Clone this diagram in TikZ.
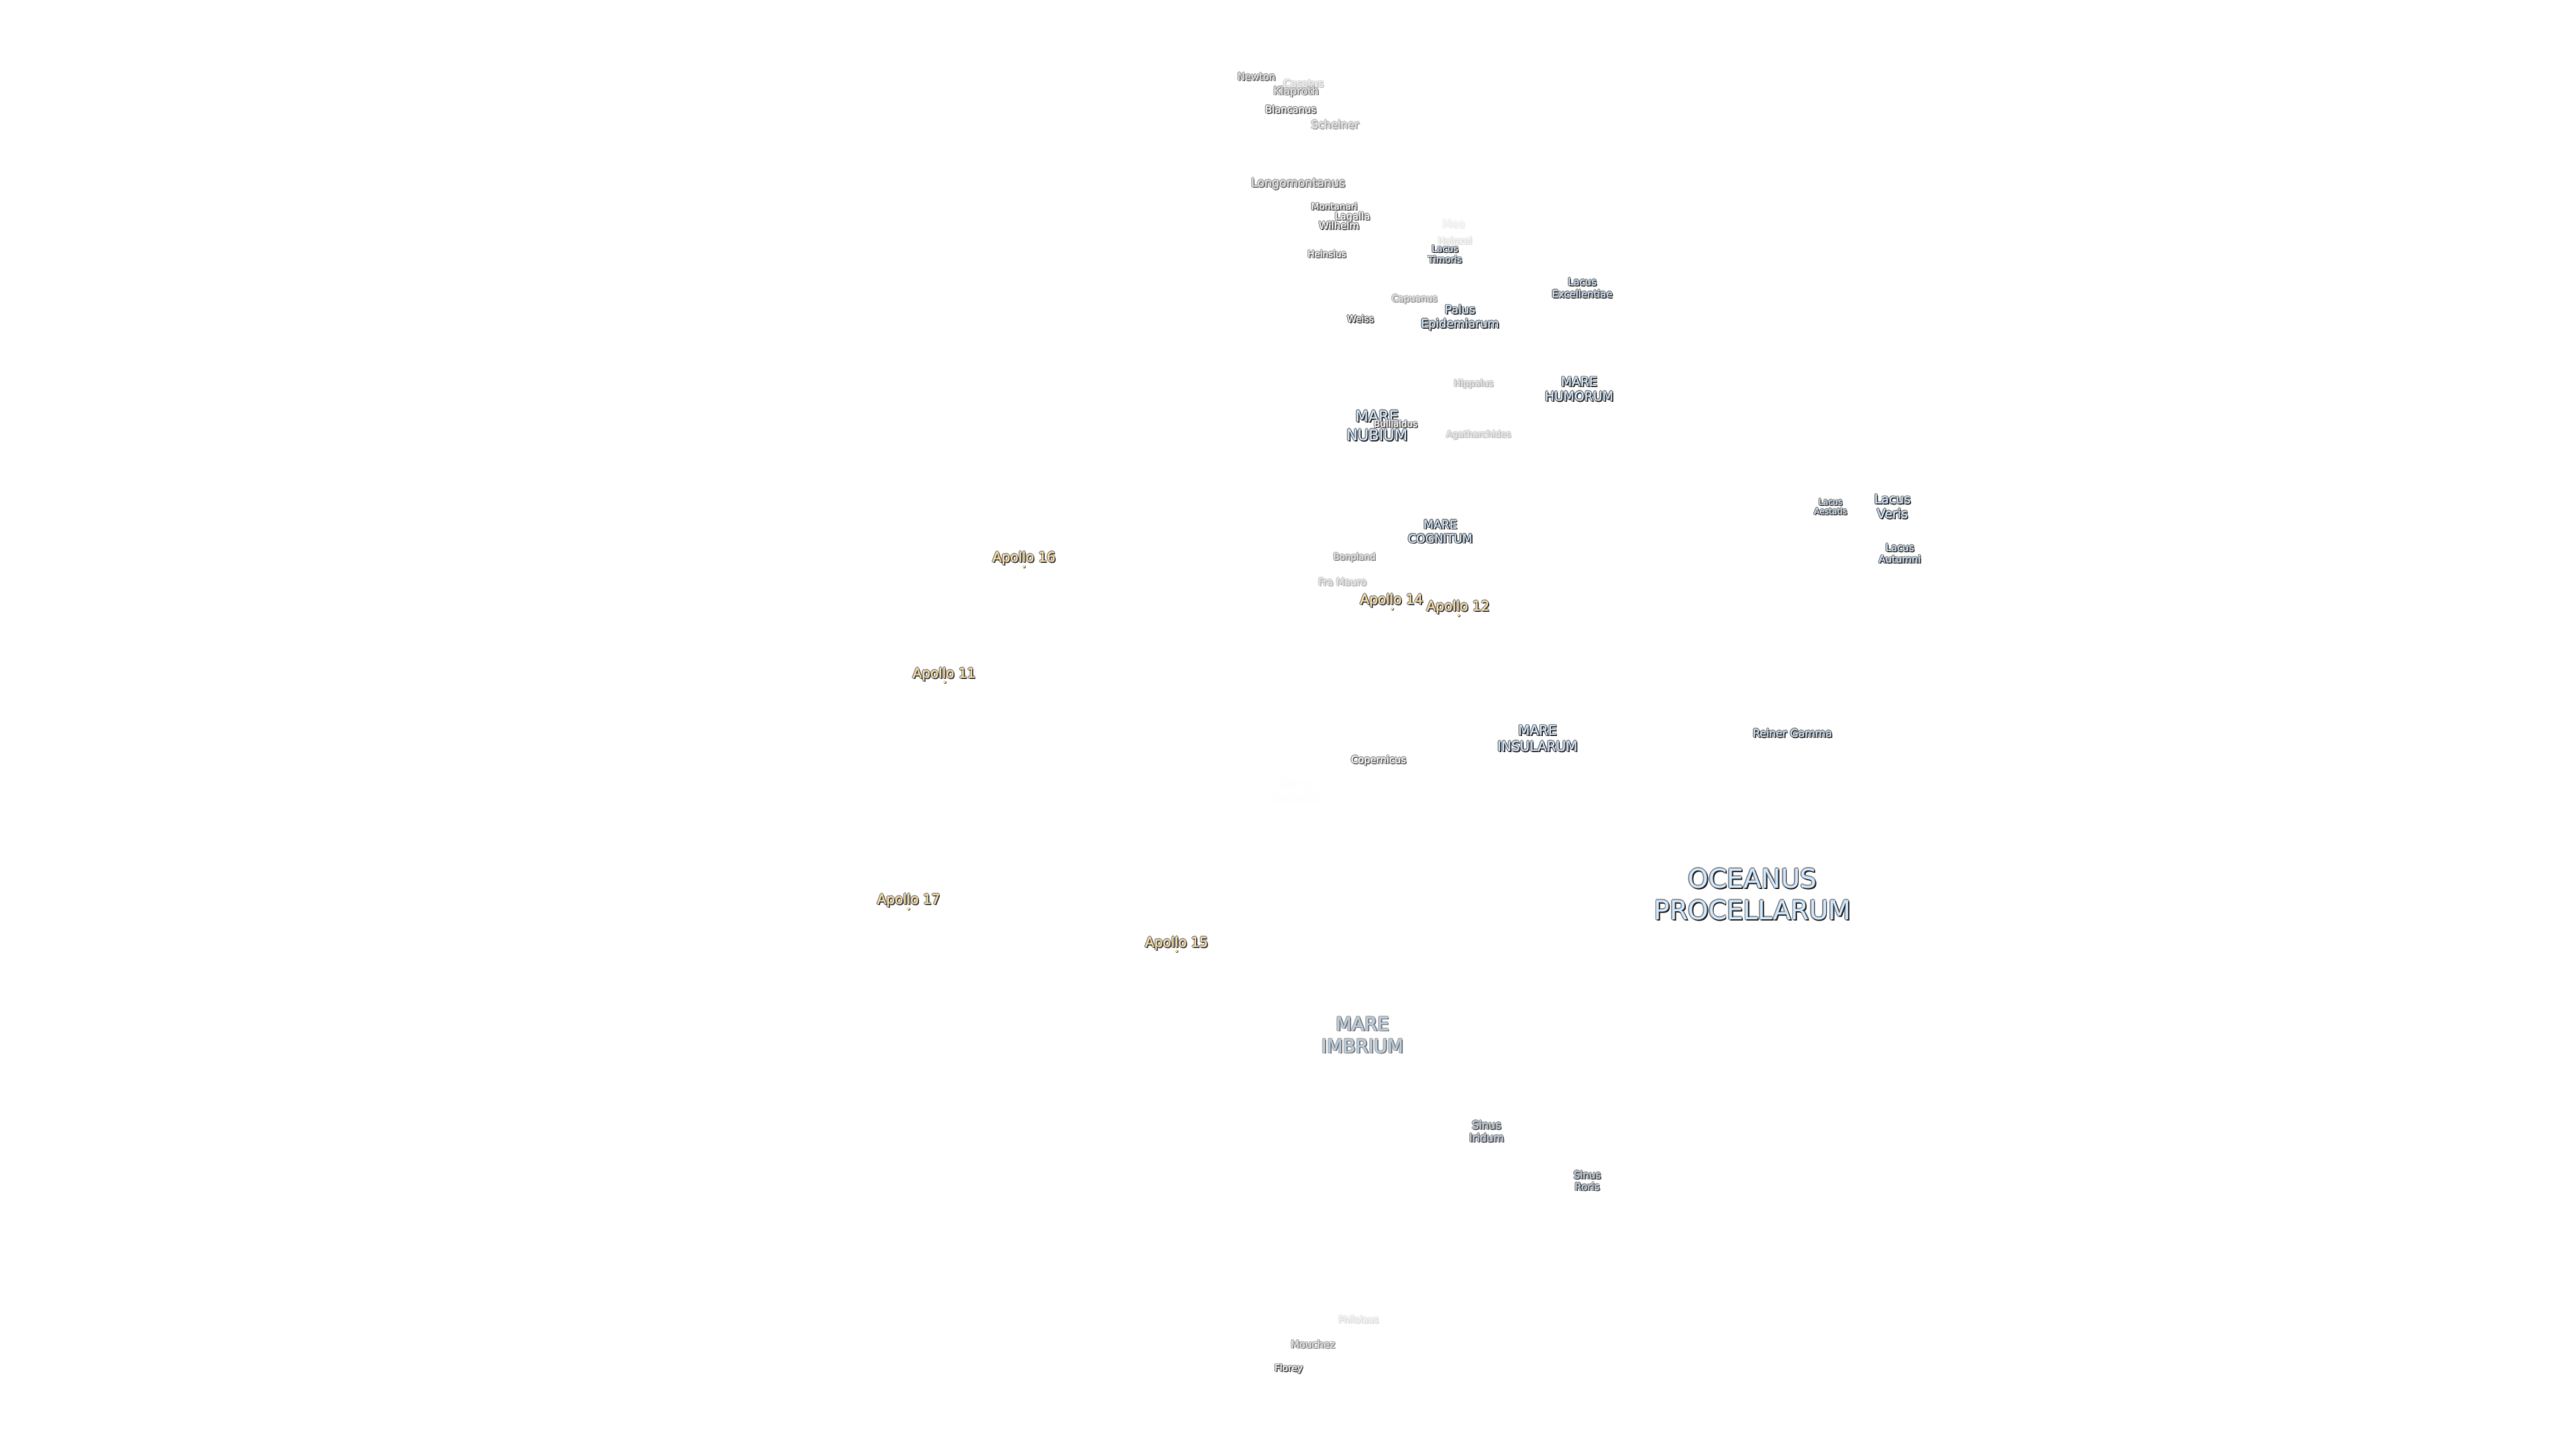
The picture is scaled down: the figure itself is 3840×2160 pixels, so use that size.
\documentclass[tikz,border=0pt]{standalone}
\usepackage{fontspec}
\setmainfont{DejaVu Sans}
\definecolor{seafill}{HTML}{CCE5FF}
\definecolor{seadim}{HTML}{B8CCE0}
\definecolor{apollofill}{HTML}{FFDD99}
\definecolor{craterfill}{HTML}{FFFFFF}
\definecolor{cratermid}{HTML}{E2E2E2}
\newcommand{\moonfont}[2]{\fontsize{\dimexpr#1pt*2845/10000\relax}{\dimexpr#2pt*2845/10000\relax}\selectfont}
% name, x, y, size(px), line height(px), fill colour, strength(0-100), text
\newcommand{\moonlabel}[8]{%
  \pgfmathsetmacro{\khalo}{0.42*#7}%
  \pgfmathsetmacro{\kdark}{0.80*#7}%
  \pgfmathsetmacro{\kfill}{#7<30?30+#7:100}%
  \colorlet{halocol}{black!\khalo!white}%
  \colorlet{darkcol}{black!\kdark!white}%
  \colorlet{fillcol}{#6!\kfill!white}%
  \pgfmathsetmacro{\ycen}{#3+0.12*#4}%
  \foreach \hx/\hy [count=\hi] in {-1.7/0,1.7/0,0/-1.7,0/1.7,-1.2/-1.2,1.2/-1.2,-1.2/1.2,1.2/1.2}{%
    \node[moontext,text=halocol,font=\moonfont{#4}{#5}] (#1-halo\hi) at (#2+\hx,\ycen+\hy) {\rule{0pt}{.76em}#8\rule[-.24em]{0pt}{.24em}};
  }%
  \node[moontext,text=darkcol,font=\moonfont{#4}{#5}] (#1-shadow) at (#2+1.8,\ycen+1.8) {\rule{0pt}{.76em}#8\rule[-.24em]{0pt}{.24em}};
  \node[moontext,text=fillcol,font=\moonfont{#4}{#5}] (#1) at (#2,\ycen) {\rule{0pt}{.76em}#8\rule[-.24em]{0pt}{.24em}};
}
\newcommand{\moonsite}[3]{%
  \fill[black!60] (#2+1,#3+1) circle[radius=2.2];
  \node[sitedot] (#1) at (#2,#3) {};
}
\tikzset{
  moontext/.style={inner sep=0pt,outer sep=0pt,align=center,anchor=center},
  sitedot/.style={circle,fill=apollofill,inner sep=0pt,minimum size=0.04cm}
}
\begin{document}
\begin{tikzpicture}[x=0.01cm,y=-0.01cm]
\useasboundingbox (0,0) rectangle (3840,2160);
\fill[white] (0,0) rectangle (3840,2160);
% faint first
\moonlabel{aestuum}{1930}{1179}{17}{21}{craterfill}{0.5}{Sinus\\Aestuum}
\moonlabel{mee}{2167}{333.3}{16}{19}{cratermid}{8}{Mee}
\moonlabel{heinzel}{2169}{358.7}{13.6}{16}{cratermid}{16}{Heinzel}
\moonlabel{philolaus}{2025}{1966.5}{13.5}{16}{cratermid}{16}{Philolaus}
\moonlabel{casatus}{1943}{124}{15}{18}{cratermid}{28}{Casatus}
\moonlabel{newton}{1873}{114}{14.7}{18}{cratermid}{70}{Newton}
\moonlabel{klaproth}{1932}{135}{16}{19}{cratermid}{62}{Klaproth}
\moonlabel{blancanus}{1924}{162.7}{14.7}{18}{craterfill}{80}{Blancanus}
\moonlabel{scheiner}{1990}{185}{16.3}{19}{cratermid}{45}{Scheiner}
\moonlabel{longomontanus}{1935}{271.7}{17.4}{21}{cratermid}{68}{Longomontanus}
\moonlabel{montanari}{1989}{307.7}{13.5}{16}{craterfill}{85}{Montanari}
\moonlabel{lagalla}{2016}{321.7}{14.6}{17}{craterfill}{75}{Lagalla}
\moonlabel{wilhelm}{1996}{335.7}{14.9}{18}{craterfill}{85}{Wilhelm}
\moonlabel{heinsius}{1978}{378.3}{13.5}{16}{craterfill}{78}{Heinsius}
\moonlabel{timoris}{2154}{378.7}{13.7}{16}{seafill}{100}{Lacus\\Timoris}
\moonlabel{capuanus}{2108.5}{444.3}{13.6}{16}{cratermid}{50}{Capuanus}
\moonlabel{weiss}{2028}{475}{13.8}{16}{craterfill}{95}{Weiss}
\moonlabel{palus}{2176.4}{471.5}{17.4}{20.7}{seafill}{100}{Palus\\Epidemiarum}
\moonlabel{excellentiae}{2358.6}{429}{14.8}{18}{seafill}{100}{Lacus\\Excellentiae}
\moonlabel{hippalus}{2196.7}{571}{13.5}{16}{cratermid}{35}{Hippalus}
\moonlabel{humorum}{2354}{579.5}{18.8}{21.7}{seafill}{100}{MARE\\HUMORUM}
\moonlabel{nubium}{2052.7}{634}{22.4}{27.7}{seafill}{100}{MARE\\NUBIUM}
\moonlabel{bullialdus}{2080.5}{631.7}{13.4}{16}{craterfill}{85}{Bullialdus}
\moonlabel{agatharchides}{2204}{646.7}{13.4}{16}{cratermid}{30}{Agatharchides}
\moonlabel{cognitum}{2147}{792}{17.4}{21}{seafill}{100}{MARE\\COGNITUM}
\moonlabel{bonpland}{2019}{829.5}{13.3}{16}{cratermid}{55}{Bonpland}
\moonlabel{framauro}{2001}{867}{14.5}{17}{cratermid}{35}{Fra Mauro}
\moonlabel{insularum}{2292}{1100}{20}{23.5}{seafill}{100}{MARE\\INSULARUM}
\moonlabel{copernicus}{2055}{1131.7}{14.7}{18}{craterfill}{78}{Copernicus}
\moonlabel{reiner}{2672}{1092.5}{15.8}{19}{seafill}{100}{Reiner Gamma}
\moonlabel{aestatis}{2728.7}{755}{12.2}{14}{seafill}{100}{Lacus\\Aestatis}
\moonlabel{veris}{2821}{754.5}{18.8}{21.7}{seafill}{100}{Lacus\\Veris}
\moonlabel{autumni}{2832}{824.5}{14.8}{17.5}{seafill}{100}{Lacus\\Autumni}
\moonlabel{procellarum}{2612.5}{1332}{39}{47}{seafill}{100}{OCEANUS\\PROCELLARUM}
\moonlabel{imbrium}{2031}{1542}{27.6}{33}{seadim}{65}{MARE\\IMBRIUM}
\moonlabel{iridum}{2216}{1686}{16}{19}{seadim}{85}{Sinus\\Iridum}
\moonlabel{roris}{2366}{1759.5}{15}{17.7}{seadim}{90}{Sinus\\Roris}
\moonlabel{mouchez}{1957}{2003.5}{14.8}{18}{cratermid}{58}{Mouchez}
\moonlabel{florey}{1921}{2038.5}{13.7}{16}{craterfill}{90}{Florey}
% Apollo sites
\moonsite{site11}{1408}{1016}
\moonlabel{apollo11}{1407.5}{1002.7}{20}{24}{apollofill}{90}{Apollo 11}
\moonsite{site12}{2174}{916.7}
\moonlabel{apollo12}{2173.5}{902.7}{20}{24}{apollofill}{90}{Apollo 12}
\moonsite{site14}{2075}{907}
\moonlabel{apollo14}{2074.5}{893}{20}{24}{apollofill}{90}{Apollo 14}
\moonsite{site15}{1753.5}{1417}
\moonlabel{apollo15}{1754}{1404}{20}{24}{apollofill}{90}{Apollo 15}
\moonsite{site16}{1526}{844}
\moonlabel{apollo16}{1526.5}{830}{20}{24}{apollofill}{90}{Apollo 16}
\moonsite{site17}{1354}{1354}
\moonlabel{apollo17}{1354.5}{1340}{20}{24}{apollofill}{90}{Apollo 17}
\end{tikzpicture}
\end{document}
